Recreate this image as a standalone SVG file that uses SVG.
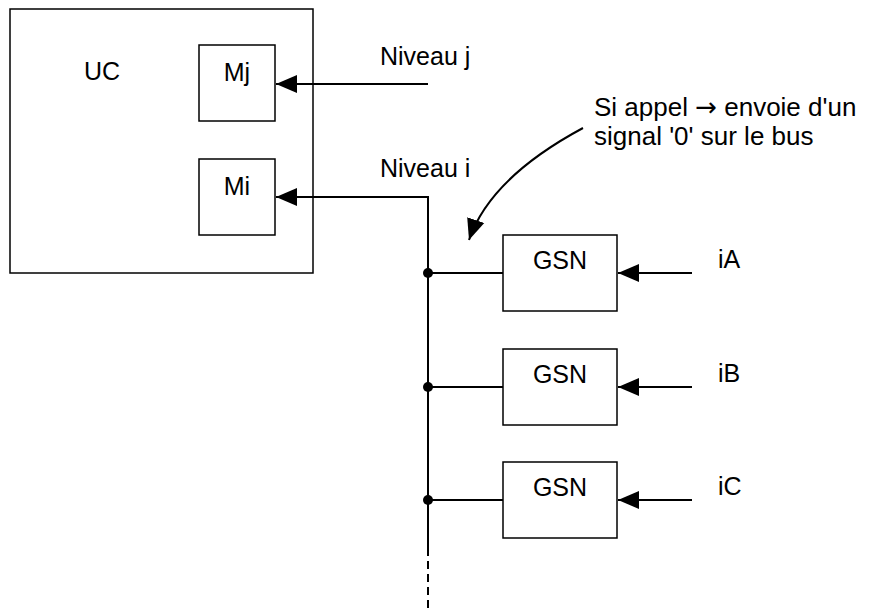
<svg xmlns="http://www.w3.org/2000/svg" width="872" height="613" viewBox="0 0 872 613">
<defs>
<style>
text{font-family:"Liberation Sans",Arial,sans-serif;font-size:25px;fill:#000}
.note{font-size:26px}
.box{fill:#fff;stroke:#000;stroke-width:1.5}
.ln{fill:none;stroke:#000;stroke-width:2}
.mid{text-anchor:middle}
</style>
<marker id="ah" markerUnits="userSpaceOnUse" markerWidth="22" markerHeight="20" viewBox="0 0 22 20" refX="21" refY="10" orient="auto">
<path d="M0,1 L21,10 L0,19 Z" fill="#000"/>
</marker>
</defs>
<rect width="872" height="613" fill="#fff"/>
<g id="uc">
<rect class="box" x="10" y="9" width="303" height="264"/>
<text x="84" y="80">UC</text>
</g>
<g id="mj">
<rect class="box" x="199" y="45" width="76" height="76"/>
<text class="mid" x="237" y="81">Mj</text>
</g>
<g id="mi">
<rect class="box" x="199" y="159" width="76" height="76"/>
<text class="mid" x="237" y="195">Mi</text>
</g>
<g id="gsnA">
<rect class="box" x="503" y="235" width="114" height="76"/>
<text class="mid" x="560" y="269">GSN</text>
</g>
<g id="gsnB">
<rect class="box" x="503" y="349" width="114" height="76"/>
<text class="mid" x="560" y="383">GSN</text>
</g>
<g id="gsnC">
<rect class="box" x="503" y="462" width="114" height="76"/>
<text class="mid" x="560" y="496">GSN</text>
</g>
<g id="labels">
<text x="380" y="65">Niveau j</text>
<text x="380" y="177">Niveau i</text>
<text class="note" x="594" y="116">Si appel <tspan font-family="'DejaVu Sans',sans-serif">→</tspan> envoie d'un</text>
<text class="note" x="594" y="145">signal '0' sur le bus</text>
<text x="718" y="268">iA</text>
<text x="718" y="382">iB</text>
<text x="718" y="495">iC</text>
</g>
<g id="connectors">
<line class="ln" x1="428" y1="84" x2="276" y2="84" marker-end="url(#ah)"/>
<path class="ln" d="M428,548 L428,197 L276,197" marker-end="url(#ah)"/>
<line class="ln" x1="428" y1="548" x2="428" y2="613" stroke-dasharray="8,5"/>
<line class="ln" x1="428" y1="273" x2="503" y2="273"/>
<line class="ln" x1="428" y1="387" x2="503" y2="387"/>
<line class="ln" x1="428" y1="500" x2="503" y2="500"/>
<circle cx="428" cy="273" r="5"/>
<circle cx="428" cy="387" r="5"/>
<circle cx="428" cy="500" r="5"/>
<line class="ln" x1="692" y1="273" x2="618" y2="273" marker-end="url(#ah)"/>
<line class="ln" x1="692" y1="387" x2="618" y2="387" marker-end="url(#ah)"/>
<line class="ln" x1="692" y1="500" x2="618" y2="500" marker-end="url(#ah)"/>
<path class="ln" d="M583,128 Q490,178 469,240" marker-end="url(#ah)"/>
</g>
</svg>
